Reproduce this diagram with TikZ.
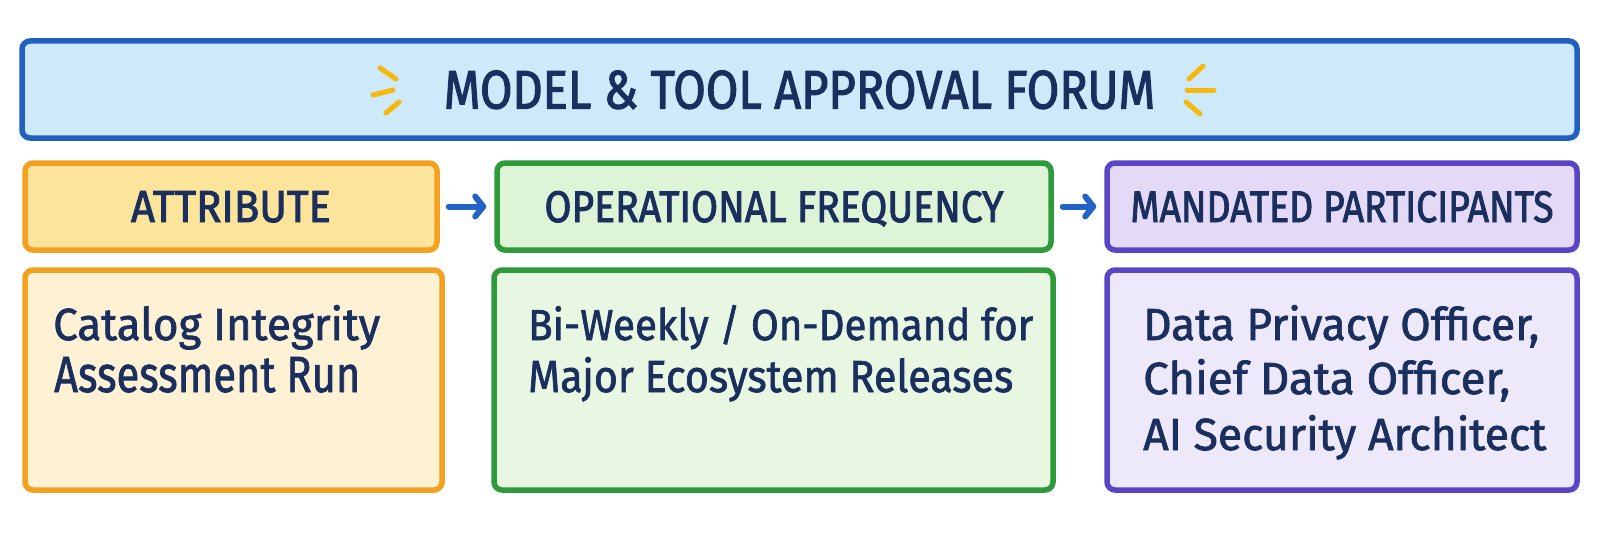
\documentclass[tikz,border=0pt]{standalone}
\usepackage{fontspec}
\setmainfont{Fira Sans}
\newfontfamily\headfont{Fira Sans}[FakeBold=2.2]
\newfontfamily\bodyfont{Fira Sans}[FakeBold=1.6]
\usetikzlibrary{arrows.meta}
\definecolor{ink}{HTML}{1B2F5E}
\definecolor{tfill}{HTML}{CDE9FA}
\definecolor{tline}{HTML}{2160BE}
\definecolor{yfillh}{HTML}{FCE59A}
\definecolor{yfillb}{HTML}{FFF2D4}
\definecolor{yline}{HTML}{F4A020}
\definecolor{gfillh}{HTML}{DDF4D6}
\definecolor{gfillb}{HTML}{E7F7E2}
\definecolor{gline}{HTML}{2F9A3C}
\definecolor{pfillh}{HTML}{E4DAF8}
\definecolor{pfillb}{HTML}{EDE9FB}
\definecolor{pline}{HTML}{5A45C4}
\definecolor{spark}{HTML}{F6B80A}
\definecolor{arrowblue}{HTML}{2463C6}
\newcommand{\fitto}[3]{\resizebox{#1pt}{#2pt}{#3}}
\begin{document}
\begin{tikzpicture}[x=1pt,y=-1pt,
  panel/.style={rectangle, rounded corners=8pt, line width=5.5pt, inner sep=0pt},
  hdr/.style={panel, minimum height=87pt, text height=31pt, text depth=0pt, text=ink, font=\headfont},
  bodybox/.style={panel, minimum height=220pt},
  bodytxt/.style={anchor=base west, inner sep=0pt, text=ink, font=\bodyfont},
  flow/.style={line width=6pt, arrowblue, line cap=round, shorten <=9pt, shorten >=8pt,
    -{Straight Barb[round, length=8pt, width=20pt]}},
  sparkline/.style={line width=5pt, spark, line cap=round}]
\useasboundingbox (0,0) rectangle (1600,535);
\fill[white] (0,0) rectangle (1600,535);
% title
\node[panel, draw=tline, fill=tfill, minimum width=1555pt, minimum height=97pt,
  text height=38pt, text depth=0pt, text=ink, font=\headfont] (title) at (799.5,89.5)
  {\fitto{711}{38}{MODEL \& TOOL APPROVAL FORUM}};
% sparks
\draw[sparkline] (380,68) -- (396,79);
\draw[sparkline] (373,95) -- (393,90);
\draw[sparkline] (386,113) -- (399,102);
\draw[sparkline] (1203,66) -- (1189,79);
\draw[sparkline] (1187,90) -- (1214,90);
\draw[sparkline] (1186,102) -- (1200,114);
% headers
\node[hdr, draw=yline, fill=yfillh, minimum width=412pt] (h1) at (231,206.5)
  {\fitto{200}{31}{ATTRIBUTE}};
\node[hdr, draw=gline, fill=gfillh, minimum width=554pt] (h2) at (774,206.5)
  {\fitto{459}{31}{OPERATIONAL FREQUENCY}};
\node[hdr, draw=pline, fill=pfillh, minimum width=470pt] (h3) at (1342,206.5)
  {\fitto{423}{31}{MANDATED PARTICIPANTS}};
\draw[flow] (h1.east) -- (h2.west);
\draw[flow] (h2.east) -- (h3.west);
% body boxes
\node[bodybox, draw=yline, fill=yfillb, minimum width=417pt] (b1) at (233.5,380) {};
\node[bodybox, draw=gline, fill=gfillb, minimum width=559pt] (b2) at (773.5,380) {};
\node[bodybox, draw=pline, fill=pfillb, minimum width=470pt] (b3) at (1342,380) {};
% body text
\node[bodytxt] (t11) at (53,340) {\fitto{327}{35}{Catalog Integrity}};
\node[bodytxt] (t12) at (54,392) {\fitto{306}{35}{Assessment Run}};
\node[bodytxt] (t21) at (528,340) {\fitto{505}{35}{Bi-Weekly / On-Demand for}};
\node[bodytxt] (t22) at (528,392) {\fitto{485}{35}{Major Ecosystem Releases}};
\node[bodytxt] (t31) at (1143,340) {\fitto{396}{35}{Data Privacy Officer,}};
\node[bodytxt] (t32) at (1143,394) {\fitto{367}{35}{Chief Data Officer,}};
\node[bodytxt] (t33) at (1143,450) {\fitto{403}{35}{AI Security Architect}};
\end{tikzpicture}
\end{document}
